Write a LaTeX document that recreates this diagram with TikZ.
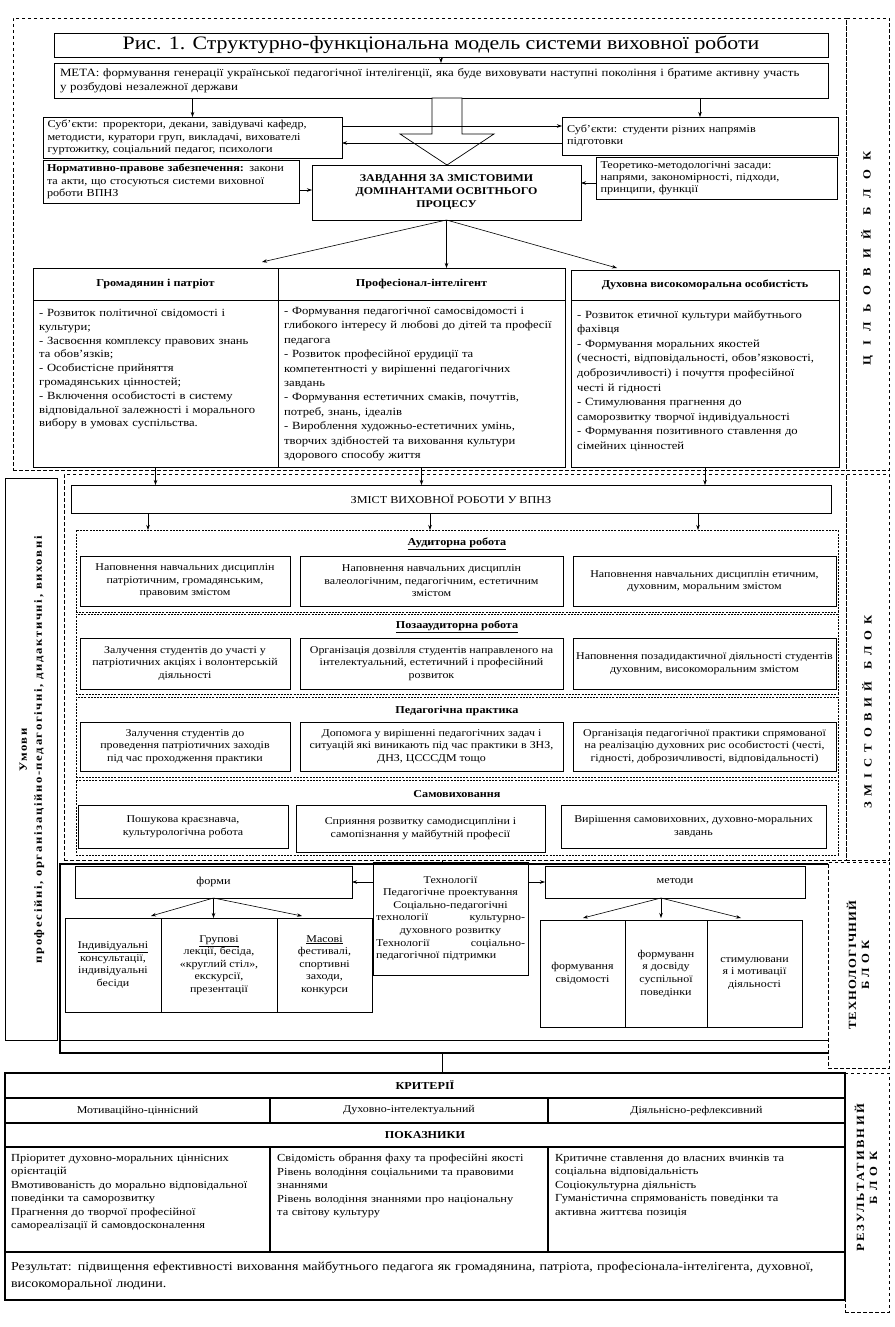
\documentclass[tikz,border=0pt]{standalone}
\usepackage{fontspec}
\setmainfont{Liberation Serif}[FakeStretch=1.15]
\usetikzlibrary{arrows.meta}
\newcommand{\mybox}[7]{\node[bx, minimum width={(#4-#2)*1pt}, minimum height={(#5-#3)*1pt}, #6] (#1) at ({(#2+#4)/2},{(#3+#5)/2}) {#7};}
\begin{document}
\begin{tikzpicture}[x=1pt,y=-1pt,
 bx/.style={draw, line width=0.7pt, inner sep=1pt, outer sep=0pt, align=center, font=\fontsize{10.4}{12.6}\selectfont},
 fu/.style={font=\fontsize{10.6}{12.2}\selectfont},
 dsh/.style={dash pattern=on 3.5pt off 2.5pt, line width=0.7pt},
 sec/.style={dash pattern=on 2pt off 1.2pt, line width=0.5pt},
 thk/.style={line width=1.1pt},
 arr/.style={-{Stealth[length=5pt,width=3.5pt]}, line width=0.6pt},
 tl/.style={font=\fontsize{11}{13.8}\selectfont, align=left, anchor=north west, inner sep=0pt},
 tr/.style={font=\fontsize{10.8}{13.5}\selectfont, align=left, anchor=north west, inner sep=0pt},
 hd/.style={font=\bfseries\fontsize{10.6}{12}\selectfont, inner sep=0pt},
 lab/.style={font=\bfseries\fontsize{11}{13}\selectfont, rotate=90, align=center, inner sep=0pt},
]
\useasboundingbox (0,0) rectangle (894,1327);
\fill[white] (0,0) rectangle (894,1327);

% ---------------- ЦІЛЬОВИЙ БЛОК
\mybox{blk1}{13}{18}{846}{470}{dsh}{}
\mybox{lab1}{846}{18}{889}{470}{dsh}{}
\node[lab] (lab1t) at (867,258) {\addfontfeature{LetterSpace=85}ЦІЛЬОВИЙ\hspace{14pt}БЛОК};

\mybox{title}{54}{33}{828}{57}{font=\fontsize{19}{21}\selectfont}{Рис. 1. Структурно-функціональна модель системи виховної роботи}
\mybox{meta}{54}{63}{828}{98}{align=left, text width=762pt, font=\fontsize{11.2}{14}\selectfont}{МЕТА: формування генерації української педагогічної інтелігенції, яка буде виховувати наступні покоління і братиме активну участь\\у розбудові незалежної держави}
\draw[arr] (title.south) -- (meta.north);

% big hollow arrow
\draw[line width=0.7pt, fill=white] (432,98) -- (462,98) -- (462,134) -- (494,134) -- (447,165) -- (400,134) -- (432,134) -- cycle;

\mybox{subjL}{43}{117}{342}{158}{fu, align=left, text width=290pt}{Суб’єкти: проректори, декани, завідувачі кафедр,\\методисти, куратори груп, викладачі, вихователі\\гуртожитку, соціальний педагог, психологи}
\mybox{subjR}{562}{117}{838}{155}{fu, align=left, text width=266pt}{Суб’єкти: студенти різних напрямів\\підготовки}
\draw[arr] (meta.south -| subjL) -- (subjL.north);
\draw[arr] (meta.south -| subjR) -- (subjR.north);
\coordinate (ya) at (0,126);
\coordinate (yb) at (0,143);
\draw[arr] (subjL.east |- ya) -- (subjR.west |- ya);
\draw[arr] (subjR.west |- yb) -- (subjL.east |- yb);

\mybox{norm}{43}{160}{299}{203}{fu, align=left, text width=248pt}{\textbf{Нормативно-правове забезпечення:} закони\\та акти, що стосуються системи виховної\\роботи ВПНЗ}
\mybox{zavd}{312}{165}{581}{220}{font=\bfseries\fontsize{10.4}{13}\selectfont}{ЗАВДАННЯ ЗА ЗМІСТОВИМИ\\ДОМІНАНТАМИ ОСВІТНЬОГО\\ПРОЦЕСУ}
\mybox{teor}{596}{157}{837}{199}{fu, align=left, text width=232pt}{Теоретико-методологічні засади:\\напрями, закономірності, підходи,\\принципи, функції}
\coordinate (yc) at (0,190);
\coordinate (yd) at (0,183);
\draw[arr] (norm.east |- yc) -- (zavd.west |- yc);
\draw[arr] (teor.west |- yd) -- (zavd.east |- yd);

% three columns
\mybox{hL}{33}{268}{278}{300}{font=\bfseries\fontsize{10.6}{12}\selectfont}{Громадянин і патріот}
\mybox{hM}{278}{268}{565}{300}{font=\bfseries\fontsize{10.6}{12}\selectfont}{Професіонал-інтелігент}
\mybox{hR}{571}{270}{839}{300}{font=\bfseries\fontsize{10.6}{12}\selectfont}{Духовна високоморальна особистість}
\mybox{bL}{33}{300}{278}{467}{}{}
\mybox{bM}{278}{300}{565}{467}{}{}
\mybox{bR}{571}{300}{839}{467}{}{}
\coordinate (tipL) at (262,262);
\coordinate (tipR) at (617,268);
\draw[arr] (zavd.south) -- (tipL);
\draw[arr] (zavd.south) -- (zavd.south |- hM.north);
\draw[arr] (zavd.south) -- (tipR);

\node[tl, text width=236pt] (tL) at (39,309) {- Розвиток політичної свідомості і\\культури;\\- Засвоєння комплексу правових знань\\та обов’язків;\\- Особистісне прийняття\\громадянських цінностей;\\- Включення особистості в систему\\відповідальної залежності і морального\\вибору в умовах суспільства.};
\node[tl, text width=278pt, font=\fontsize{11}{14.4}\selectfont] (tM) at (284,307) {- Формування педагогічної самосвідомості і\\глибокого інтересу й любові до дітей та професії\\педагога\\- Розвиток професійної ерудиції та\\компетентності у вирішенні педагогічних\\завдань\\- Формування естетичних смаків, почуттів,\\потреб, знань, ідеалів\\- Вироблення художньо-естетичних умінь,\\творчих здібностей та виховання культури\\здорового способу життя};
\node[tl, text width=262pt, font=\fontsize{11}{14.6}\selectfont] (tR) at (577,310) {- Розвиток етичної культури майбутнього\\фахівця\\- Формування моральних якостей\\(чесності, відповідальності, обов’язковості,\\доброзичливості) і почуття професійної\\честі й гідності\\- Стимулювання прагнення до\\саморозвитку творчої індивідуальності\\- Формування позитивного ставлення до\\сімейних цінностей};

% ---------------- ЗМІСТОВИЙ БЛОК
\mybox{blk2}{64}{474}{846}{860}{dsh}{}
\mybox{lab2}{846}{474}{889}{860}{dsh}{}
\node[lab] (lab2t) at (867,712) {\addfontfeature{LetterSpace=55}ЗМІСТОВИЙ\hspace{12pt}БЛОК};

\mybox{zmist}{71}{485}{831}{513}{fu}{ЗМІСТ ВИХОВНОЇ РОБОТИ У ВПНЗ}
\draw[arr] (bL.south) -- (bL.south |- zmist.north);
\draw[arr] (bM.south) -- (bM.south |- zmist.north);
\draw[arr] (bR.south) -- (bR.south |- zmist.north);

\mybox{aud}{76}{530}{838}{612}{sec}{}
\coordinate (z1) at (148,0);
\coordinate (z2) at (430,0);
\coordinate (z3) at (698,0);
\draw[arr] (zmist.south -| z1) -- (aud.north -| z1);
\draw[arr] (zmist.south -| z2) -- (aud.north -| z2);
\draw[arr] (zmist.south -| z3) -- (aud.north -| z3);
\node[hd] (audT) at (457,544) {\underline{Аудиторна робота}};
\mybox{a1}{80}{556}{290}{606}{}{Наповнення навчальних дисциплін\\патріотичним, громадянським,\\правовим змістом}
\mybox{a2}{300}{556}{563}{606}{}{Наповнення навчальних дисциплін\\валеологічним, педагогічним, естетичним\\змістом}
\mybox{a3}{573}{556}{836}{606}{}{Наповнення навчальних дисциплін етичним,\\духовним, моральним змістом}

\mybox{poza}{76}{614}{838}{694}{sec}{}
\node[hd] (pozaT) at (457,627) {\underline{Позааудиторна робота}};
\mybox{p1}{80}{638}{290}{689}{}{Залучення студентів до участі у\\патріотичних акціях і волонтерській\\діяльності}
\mybox{p2}{300}{638}{563}{689}{}{Організація дозвілля студентів направленого на\\інтелектуальний, естетичний і професійний\\розвиток}
\mybox{p3}{573}{638}{836}{689}{}{Наповнення позадидактичної діяльності студентів\\духовним, високоморальним змістом}

\mybox{ped}{76}{697}{838}{777}{sec}{}
\node[hd] (pedT) at (457,711) {Педагогічна практика};
\mybox{e1}{80}{722}{290}{771}{}{Залучення студентів до\\проведення патріотичних заходів\\під час проходження практики}
\mybox{e2}{300}{722}{563}{771}{}{Допомога у вирішенні педагогічних задач і\\ситуацій які виникають під час практики в ЗНЗ,\\ДНЗ, ЦСССДМ тощо}
\mybox{e3}{573}{722}{836}{771}{}{Організація педагогічної практики спрямованої\\на реалізацію духовних рис особистості (честі,\\гідності, доброзичливості, відповідальності)}

\mybox{samo}{76}{780}{838}{855}{sec}{}
\node[hd] (samoT) at (457,794) {Самовиховання};
\mybox{s1}{78}{805}{288}{848}{}{Пошукова краєзнавча,\\культурологічна робота}
\mybox{s2}{296}{805}{545}{852}{}{Сприяння розвитку самодисципліни і\\самопізнання у майбутній професії}
\mybox{s3}{561}{805}{826}{848}{}{Вирішення самовиховних, духовно-моральних\\завдань}

% ---------------- Умови
\mybox{umovy}{5}{478}{57}{1040}{}{}
\node[rotate=90, align=center, inner sep=0pt, font=\bfseries\fontsize{11}{15}\selectfont] (umovyT) at (32,750) {\addfontfeature{LetterSpace=15}Умови\\\addfontfeature{LetterSpace=15}професійні, організаційно-педагогічні, дидактичні, виховні};

% ---------------- ТЕХНОЛОГІЧНИЙ БЛОК
\mybox{tech}{60}{864}{828}{1053}{draw=none}{}
\draw[thk] (tech.north east) -- (tech.north west) -- (tech.south west) -- (tech.south east);
\coordinate (ye) at (0,1040);
\draw[line width=0.7pt] (tech.west |- ye) -- (tech.east |- ye);
\mybox{lab3}{828}{862}{889}{1068}{dsh}{}
\node[lab] (lab3t) at (858,965) {\addfontfeature{LetterSpace=10}ТЕХНОЛОГІЧНИЙ\\\addfontfeature{LetterSpace=40}БЛОК};
\coordinate (c1) at (442,0);
\draw[line width=0.7pt] (blk2.south -| c1) -- (tech.north -| c1);

\mybox{forms}{75}{866}{352}{898}{fu}{форми}
\mybox{techc}{373}{862}{528}{975}{align=left, text width=149pt}{\centering Технології\\\centering Педагогічне проектування\\Соціально-педагогічні\\технології\hfill культурно-\\духовного розвитку\\Технології\hfill соціально-\\педагогічної підтримки}
\mybox{methods}{545}{866}{805}{898}{fu}{методи}
\coordinate (yf) at (0,882);
\draw[arr] (techc.west |- yf) -- (forms.east |- yf);
\draw[arr] (techc.east |- yf) -- (methods.west |- yf);

\mybox{f1}{65}{918}{161}{1012}{}{\underline{Індивідуальні}\\консультації,\\індивідуальні\\бесіди}
\mybox{f2}{161}{918}{277}{1012}{}{\underline{Групові}\\лекції, бесіда,\\«круглий стіл»,\\екскурсії,\\презентації}
\mybox{f3}{277}{918}{372}{1012}{}{\underline{Масові}\\фестивалі,\\спортивні\\заходи,\\конкурси}
\coordinate (fa) at (151,916);
\coordinate (fc) at (302,916);
\draw[arr] (forms.south) -- (fa);
\draw[arr] (forms.south) -- (forms.south |- f2.north);
\draw[arr] (forms.south) -- (fc);

\mybox{m1}{540}{920}{625}{1027}{}{формування\\свідомості}
\mybox{m2}{625}{920}{707}{1027}{}{формуванн\\я досвіду\\суспільної\\поведінки}
\mybox{m3}{707}{920}{802}{1027}{}{стимулювани\\я і мотивації\\діяльності}
\coordinate (ma) at (583,918);
\coordinate (mb) at (661,918);
\coordinate (mc) at (741,918);
\coordinate (mo) at (661,898);
\draw[arr] (mo) -- (ma);
\draw[arr] (mo) -- (mb);
\draw[arr] (mo) -- (mc);

% ---------------- РЕЗУЛЬТАТИВНИЙ БЛОК
\mybox{lab4}{845}{1073}{889}{1312}{dsh}{}
\node[lab] (lab4t) at (866,1178) {\addfontfeature{LetterSpace=20}РЕЗУЛЬТАТИВНИЙ\\\addfontfeature{LetterSpace=50}БЛОК};
\mybox{krit}{5}{1073}{845}{1098}{thk, font=\bfseries\fontsize{10.6}{12}\selectfont}{КРИТЕРІЇ}
\draw[line width=0.7pt] (tech.south -| c1) -- (krit.north -| c1);
\mybox{k1}{5}{1098}{270}{1123}{thk}{Мотиваційно-ціннісний}
\mybox{k2}{270}{1098}{548}{1123}{thk}{Духовно-інтелектуальний}
\mybox{k3}{548}{1098}{845}{1123}{thk}{Діяльнісно-рефлексивний}
\mybox{pok}{5}{1123}{845}{1147}{thk, font=\bfseries\fontsize{10.6}{12}\selectfont}{ПОКАЗНИКИ}
\mybox{i1}{5}{1147}{270}{1252}{thk}{}
\mybox{i2}{270}{1147}{548}{1252}{thk}{}
\mybox{i3}{548}{1147}{845}{1252}{thk}{}
\node[tr, text width=258pt] (i1t) at (11,1154) {Пріоритет духовно-моральних ціннісних\\орієнтацій\\Вмотивованість до морально відповідальної\\поведінки та саморозвитку\\Прагнення до творчої професійної\\самореалізації й самовдосконалення};
\node[tr, text width=270pt] (i2t) at (277,1154) {Свідомість обрання фаху та професійні якості\\Рівень володіння соціальними та правовими\\знаннями\\Рівень володіння знаннями про національну\\та світову культуру};
\node[tr, text width=290pt] (i3t) at (555,1154) {Критичне ставлення до власних вчинків та\\соціальна відповідальність\\Соціокультурна діяльність\\Гуманістична спрямованість поведінки та\\активна життєва позиція};
\mybox{resl}{5}{1252}{845}{1300}{thk, align=left, text width=828pt, font=\fontsize{12.2}{17}\selectfont}{Результат: підвищення ефективності виховання майбутнього педагога як громадянина, патріота, професіонала-інтелігента, духовної,\\високоморальної людини.}
\end{tikzpicture}
\end{document}
